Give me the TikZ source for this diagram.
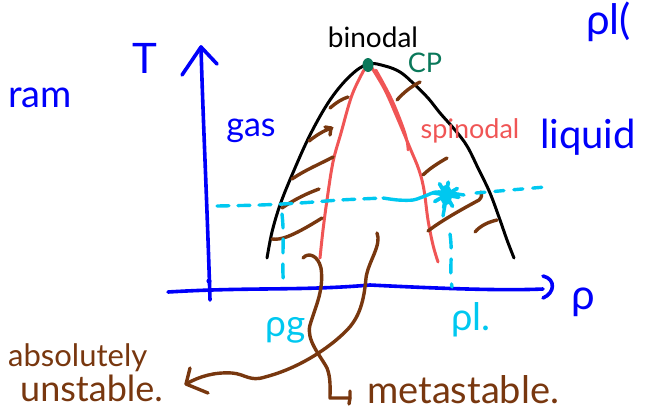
\documentclass[tikz,border=0pt]{standalone}
\usepackage{fontspec}
\setmainfont{Lato}
\usetikzlibrary{arrows.meta,calc}
\definecolor{penblue}{RGB}{0,0,250}
\definecolor{penred}{RGB}{240,85,85}
\definecolor{penbrown}{RGB}{120,55,15}
\definecolor{pencyan}{RGB}{0,200,240}
\definecolor{pengreen}{RGB}{10,120,90}
\begin{document}
\begin{tikzpicture}[x=1pt,y=-1pt,line cap=round,line join=round,
  axisline/.style={draw=penblue,line width=3.6pt},
  binodalline/.style={draw=black,line width=3pt},
  spinline/.style={draw=penred,line width=3pt},
  hatch/.style={draw=penbrown,line width=3.4pt},
  cyline/.style={draw=pencyan,line width=3.4pt},
  pointer/.style={draw=penbrown,line width=3.4pt},
  lbl/.style={inner sep=0pt,font=\fontsize{#1}{#1}\selectfont},
  lbl/.default=30]
\useasboundingbox (0,0) rectangle (652,416);

% axes
\coordinate (ybot) at (210,300);
\coordinate (ytop) at (201,47);
\coordinate (xleft) at (168,292);
\coordinate (xright) at (543,289);
\draw[axisline] (ybot) .. controls (207,200) and (203,120) .. (ytop);
\draw[axisline] (182,75) -- (ytop) -- (217,64);
\draw[axisline] (xleft) .. controls (250,287) and (300,291) .. (370,285) .. controls (430,288) and (500,291) .. (xright);
\draw[axisline] (543,276) .. controls (556,279) and (555,293) .. (543,298);
\fill[penblue] (209,281) circle (2.6);

% binodal
\draw[binodalline] plot[smooth,tension=0.6] coordinates {(267,258) (272,232) (280,205) (292,175) (310,135) (330,100) (350,76) (368,64) (385,66) (400,72) (413,83) (428,98) (440,113) (455,130) (467,146) (478,168) (490,193) (500,220) (507,240) (514,258)};

% spinodal
\draw[spinline] plot[smooth,tension=0.6] coordinates {(364,70) (352,95) (341,133) (333,162) (327,200) (323,230) (320,258)};
\draw[spinline] plot[smooth,tension=0.6] coordinates {(372,68) (385,90) (397,117) (410,148) (419,170) (424,190) (428,220) (433,245) (438,262)};
\draw[spinline,line width=2.6pt] plot[smooth,tension=0.6] coordinates {(376,70) (392,100) (405,133) (408,150)};

% critical point
\fill[pengreen] (368,65) ellipse (5.5 and 7);

% hatching
\draw[hatch] (330,108) .. controls (337,102) and (342,99) .. (348,97);
\draw[hatch] (309,141) .. controls (318,134) and (325,130) .. (332,128);
\draw[hatch] (325,127) -- (331,128) -- (330,135);
\draw[hatch] (292,179) .. controls (305,170) and (320,164) .. (333,157);
\draw[hatch] (282,208) .. controls (295,199) and (308,193) .. (319,189);
\draw[hatch] (272,239) .. controls (280,240) and (290,238) .. (322,218);
\draw[hatch] (397,100) .. controls (404,92) and (412,86) .. (420,82);
\draw[hatch] (423,175) .. controls (430,168) and (440,162) .. (447,158);
\draw[hatch] (428,231) .. controls (445,218) and (470,205) .. (479,200) .. controls (482,197) and (482,195) .. (481,192);
\draw[hatch] (475,232) .. controls (480,226) and (488,222) .. (497,220);

% cyan tie line
\draw[cyline,dash pattern=on 12pt off 9pt] plot[smooth] coordinates {(217,206) (260,205) (300,203) (340,200) (383,198)};
\draw[cyline] plot[smooth] coordinates {(383,198) (398,200) (413,200) (425,196) (436,192) (450,193) (464,195)};
\draw[cyline,dash pattern=on 9pt off 10pt] (476,193) -- (545,187);
\coordinate (star) at (446,195);
\foreach \a in {10,60,100,150}{
  \draw[cyline,line width=3.8pt] ($(star)+(\a:13)$) -- ($(star)+(\a+180:13)$);
}
\fill[pencyan] (star) ellipse (6 and 10);
\draw[cyline,dash pattern=on 14pt off 11pt] (282,214) .. controls (285,240) and (281,262) .. (284,288);
\draw[cyline,dash pattern=on 14pt off 11pt] (450,234) .. controls (453,255) and (449,270) .. (452,287);
\draw[cyline] (445,205) -- (443,216);

% labels
\node[lbl=42,text=penblue] (Tlbl) at (145,58) {T};
\node[lbl=38,text=penblue] (ramlbl) at (40,98) {ram};
\node[lbl=34,text=penblue] (gaslbl) at (251,131) {gas};
\node[lbl=40,text=penblue,anchor=base west] (liqlbl) at (540,148) {liquid};
\node[lbl=42,text=penblue,anchor=base west] (toplbl) at (586,34) {ρl(};
\node[lbl=42,text=penblue] (rholbl) at (583,302) {ρ};
\node[lbl=28] (binlbl) at (373,37) {binodal};
\node[lbl=27,text=pengreen] (cplbl) at (425,63) {CP};
\node[lbl=27,text=penred] (spinlbl) at (470,131) {spinodal};
\node[lbl=37,text=pencyan] (rhoglbl) at (286,330) {ρg};
\node[lbl=38,text=pencyan] (rholl) at (471,320) {ρl.};
\node[lbl=31,text=penbrown,anchor=base west] (abslbl) at (8,366) {absolutely};
\node[lbl=36,text=penbrown,anchor=base west] (unslbl) at (20,401) {unstable.};
\node[lbl=38,text=penbrown,anchor=base west] (metlbl) at (367,403) {metastable.};

% pointers
\coordinate (startA) at (377,233);
\coordinate (tipA) at (186,384);
\coordinate (startB) at (303,258);
\coordinate (cornerB) at (330,398);
\coordinate (tipB) at (350,398);
\draw[pointer] (startA) .. controls (382,245) and (368,262) .. (366,278)
  .. controls (364,300) and (360,318) .. (345,332)
  .. controls (330,347) and (300,368) .. (265,377)
  .. controls (250,382) and (245,374) .. (232,373)
  .. controls (215,372) and (200,376) .. (tipA);
\draw[pointer] (190,368) -- (tipA) -- (208,393);
\draw[pointer] (startB) .. controls (308,252) and (318,255) .. (321,268)
  .. controls (324,290) and (316,305) .. (310,325)
  .. controls (306,340) and (320,355) .. (327,368)
  .. controls (331,378) and (330,390) .. (cornerB) -- (tipB);
\draw[pointer] (350,391) -- (tipB) -- (349,404);
\end{tikzpicture}
\end{document}
